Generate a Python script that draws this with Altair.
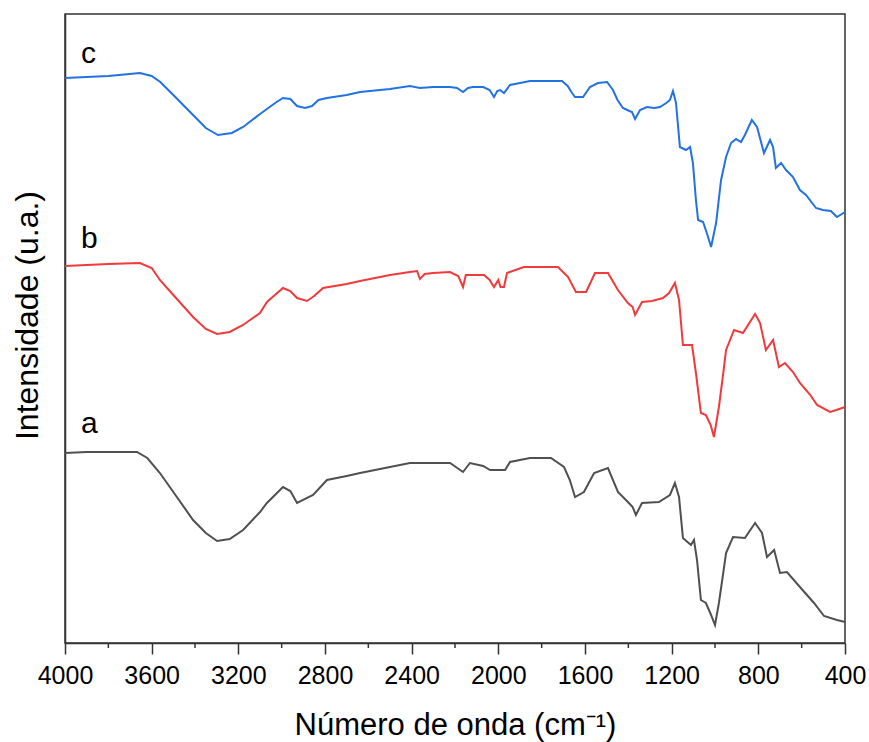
import altair as alt
import pandas as pd

# ---- Data (wavenumber in cm-1, intensity in arbitrary units) ----
wn_a = [4000, 3900, 3800, 3668, 3620, 3562, 3500, 3409, 3350, 3298, 3240, 3178, 3100, 3068, 2994,
        2960, 2929, 2855, 2791, 2700, 2638, 2500, 2408, 2300, 2223, 2163, 2131, 2070, 2038, 1969,
        1946, 1854, 1757, 1697, 1670, 1646, 1605, 1558, 1494, 1448, 1402, 1380, 1365, 1337, 1259,
        1208, 1185, 1166, 1148, 1111, 1097, 1083, 1065, 1042, 1020, 1000, 982, 960, 949, 917,
        862, 815, 783, 760, 727, 700, 668, 608, 543, 497, 437, 400]
int_a = [190, 191, 191, 191, 185, 170, 151, 123, 110, 102, 104, 113, 131, 140, 156,
         152, 140, 148, 163, 167, 170, 176, 180, 180, 180, 171, 180, 177, 173, 173,
         181, 185, 185, 176, 163, 146, 151, 170, 175, 151, 141, 136, 128, 140, 141,
         148, 160, 146, 105, 98, 103, 83, 43, 40, 29, 18, 40, 73, 90, 106,
         105, 120, 110, 86, 93, 70, 71, 56, 40, 27, 23, 21]

wn_b = [4000, 3900, 3800, 3654, 3600, 3562, 3500, 3409, 3350, 3298, 3240, 3178, 3100, 3068, 2994,
        2960, 2929, 2883, 2850, 2809, 2700, 2638, 2500, 2408, 2375, 2362, 2340, 2302, 2223, 2185,
        2163, 2150, 2066, 2040, 2020, 2000, 1990, 1974, 1960, 1882, 1725, 1678, 1642, 1595, 1554,
        1494, 1448, 1402, 1380, 1369, 1337, 1291, 1240, 1212, 1185, 1166, 1148, 1106, 1088, 1065,
        1042, 1020, 1005, 982, 960, 949, 912, 871, 815, 792, 765, 732, 705, 677, 640,
        608, 560, 529, 469, 440, 400]
int_b = [377, 378, 379, 380, 375, 363, 348, 326, 314, 309, 311, 318, 330, 341, 355,
         352, 345, 342, 347, 355, 359, 362, 368, 371, 372, 364, 369, 370, 371, 367,
         356, 368, 368, 363, 356, 363, 356, 356, 370, 376, 376, 366, 351, 351, 370,
         370, 353, 340, 336, 328, 341, 342, 345, 350, 360, 343, 298, 298, 270, 230,
         228, 218, 206, 236, 273, 293, 313, 310, 329, 320, 293, 303, 276, 280, 271,
         260, 248, 238, 231, 233, 236]

wn_c = [4000, 3900, 3800, 3654, 3600, 3560, 3500, 3409, 3350, 3294, 3230, 3178, 3100, 3030, 2994,
        2960, 2929, 2892, 2860, 2830, 2791, 2700, 2638, 2500, 2408, 2362, 2300, 2223, 2191, 2163,
        2140, 2117, 2070, 2040, 2020, 2005, 1992, 1974, 1946, 1900, 1854, 1760, 1706, 1680, 1660,
        1646, 1609, 1577, 1540, 1498, 1471, 1450, 1425, 1395, 1383, 1369, 1346, 1314, 1280, 1254,
        1225, 1208, 1194, 1180, 1162, 1134, 1115, 1102, 1088, 1078, 1055, 1035, 1018, 995, 972,
        949, 926, 903, 880, 862, 830, 806, 774, 746, 732, 719, 695, 672, 640, 608,
        580, 534, 502, 465, 437, 400]
int_c = [565, 566, 567, 570, 567, 561, 548, 528, 515, 508, 510, 516, 529, 540, 545,
         544, 537, 535, 537, 543, 545, 548, 551, 554, 557, 555, 556, 556, 555, 551,
         555, 556, 556, 553, 546, 552, 553, 550, 558, 560, 562, 562, 562, 557, 550,
         546, 546, 556, 560, 561, 553, 543, 535, 532, 531, 524, 533, 536, 535, 536,
         540, 543, 552, 540, 496, 493, 496, 480, 443, 423, 421, 408, 396, 420, 463,
         486, 500, 504, 501, 508, 523, 516, 490, 503, 496, 475, 480, 473, 466, 453,
         448, 435, 433, 432, 426, 431]

series_names = ["a", "b", "c"]
series_colors = ["#505050", "#F03A3C", "#2272E2"]

label_wn = [3926, 3926, 3926]
label_int = [210, 395, 580]

major_ticks = [4000, 3600, 3200, 2800, 2400, 2000, 1600, 1200, 800, 400]
minor_ticks = [3800, 3400, 3000, 2600, 2200, 1800, 1400, 1000, 600]

# ---- Tables ----
rows = []
for name, wn, val in zip(series_names, (wn_a, wn_b, wn_c), (int_a, int_b, int_c)):
    rows += [{"w": w, "v": v, "s": name} for w, v in zip(wn, val)]
df = pd.DataFrame(rows)
df_lab = pd.DataFrame({"w": label_wn, "v": label_int, "s": series_names})
df_minor = pd.DataFrame({"w": minor_ticks})

FONT = "Liberation Sans"
x_scale = alt.Scale(domain=[400, 4000], reverse=True, nice=False, zero=False)
y_scale = alt.Scale(domain=[0, 629], nice=False, zero=False)

x_axis = alt.Axis(
    values=major_ticks, format="d", title="Número de onda (cm⁻¹)",
    labelFont=FONT, labelFontSize=25, labelColor="black", labelPadding=9,
    labelFlush=False, labelOverlap=False,
    tickSize=11, tickWidth=1.5, tickColor="#333333",
    domainColor="#333333", domainWidth=1.5, grid=False,
    titleFont=FONT, titleFontSize=31, titleFontWeight="normal", titleColor="black",
    titleX=390, titleY=91, titleBaseline="alphabetic", titleAlign="center",
)
y_axis = alt.Axis(
    title="Intensidade (u.a.)", labels=False, ticks=False, grid=False,
    domainColor="#333333", domainWidth=1.5,
    titleFont=FONT, titleFontSize=32, titleFontWeight="normal", titleColor="black",
    titleAngle=270, titleX=-28, titleY=301, titleBaseline="alphabetic", titleAlign="center",
)

lines = alt.Chart(df).mark_line(strokeWidth=2).encode(
    x=alt.X("w:Q", scale=x_scale, axis=x_axis),
    y=alt.Y("v:Q", scale=y_scale, axis=y_axis),
    color=alt.Color("s:N", scale=alt.Scale(domain=series_names, range=series_colors), legend=None),
    detail="s:N",
)

labels = alt.Chart(df_lab).mark_text(
    align="left", baseline="alphabetic", fontSize=30, font=FONT, color="black"
).encode(
    x=alt.X("w:Q", scale=x_scale),
    y=alt.Y("v:Q", scale=y_scale),
    text="s:N",
)

minor = alt.Chart(df_minor).mark_rule(color="#333333", strokeWidth=1.5).encode(
    x=alt.X("w:Q", scale=x_scale),
    y=alt.value(629),
    y2=alt.value(634),
)

chart = alt.layer(lines, labels, minor).properties(
    width=780, height=629,
    autosize=alt.AutoSizeParams(type="none"),
    padding={"left": 65, "top": 14, "right": 24, "bottom": 99},
    background="white",
).configure_view(stroke="#333333", strokeWidth=1.5)

chart.save("out.html", embed_options={"renderer": "svg", "actions": False})
